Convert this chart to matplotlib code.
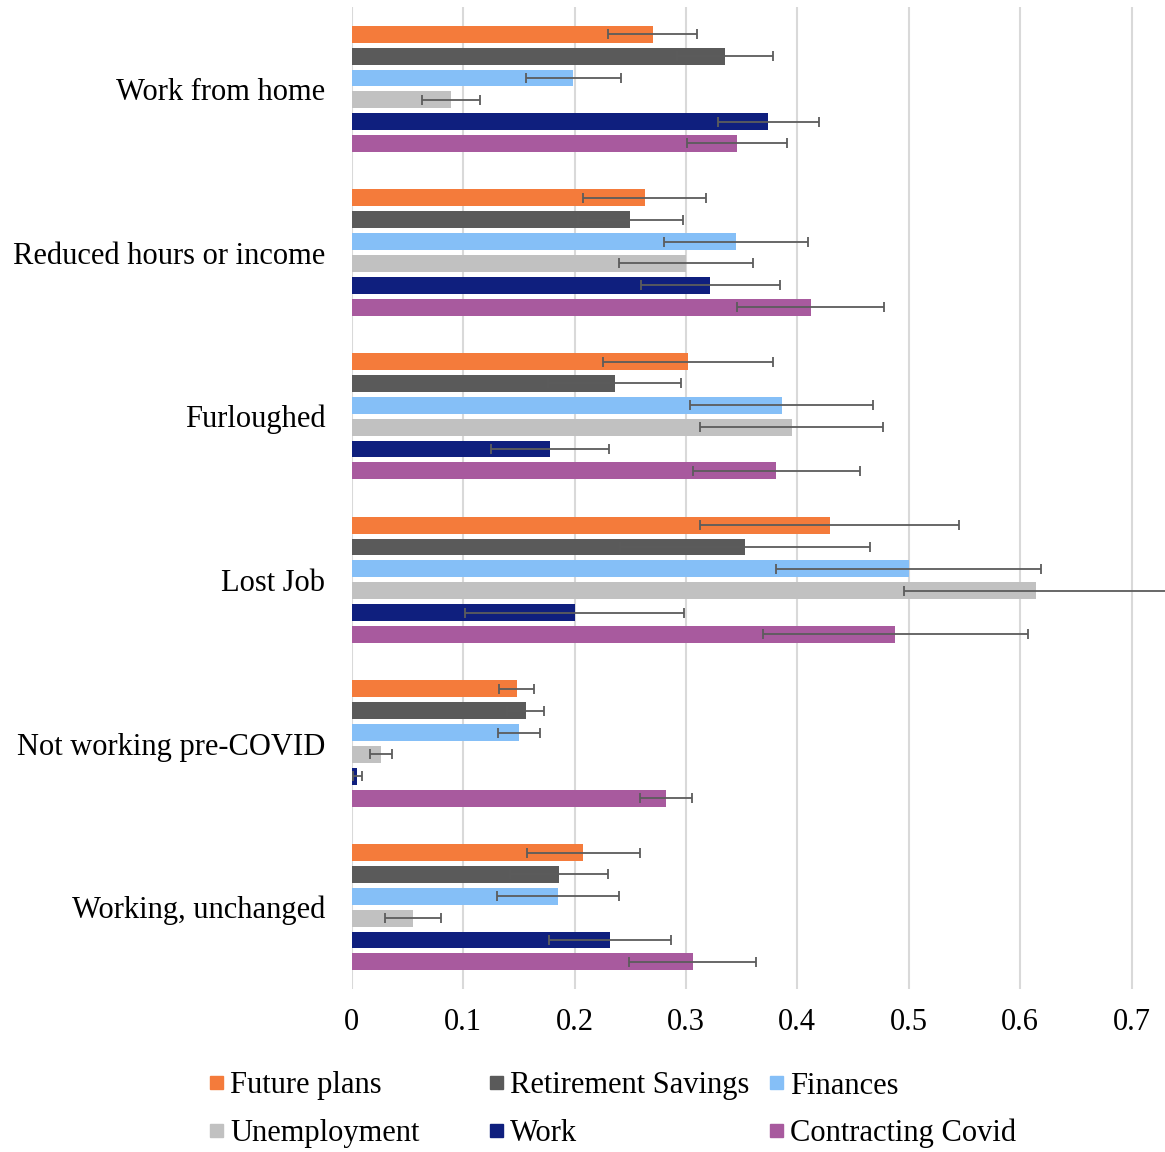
import numpy as np
import matplotlib.pyplot as plt
from matplotlib.patches import Rectangle

plt.rcParams['font.family'] = ['Liberation Serif', 'DejaVu Serif']

groups = ["Work from home", "Reduced hours or income", "Furloughed",
          "Lost Job", "Not working pre-COVID", "Working, unchanged"]
series = ["Future plans", "Retirement Savings", "Finances",
          "Unemployment", "Work", "Contracting Covid"]
colors = ["#F47B3B", "#5A5A5A", "#85BFF7", "#C1C1C1", "#0F1F7E", "#A85A9E"]

# share of respondents worried, one list per series (order follows groups)
future_plans = [0.270, 0.263, 0.302, 0.429, 0.148, 0.208]
retirement = [0.335, 0.250, 0.236, 0.353, 0.156, 0.186]
finances = [0.199, 0.345, 0.386, 0.500, 0.150, 0.185]
unemployment = [0.089, 0.300, 0.395, 0.614, 0.026, 0.055]
work = [0.374, 0.322, 0.178, 0.200, 0.005, 0.232]
contracting = [0.346, 0.412, 0.381, 0.488, 0.282, 0.306]

# error bar half-widths
future_plans_err = [0.040, 0.055, 0.076, 0.116, 0.016, 0.051]
retirement_err = [0.043, 0.047, 0.060, 0.112, 0.017, 0.044]
finances_err = [0.043, 0.065, 0.082, 0.119, 0.019, 0.055]
unemployment_err = [0.026, 0.060, 0.082, 0.118, 0.010, 0.025]
work_err = [0.045, 0.062, 0.053, 0.098, 0.004, 0.055]
contracting_err = [0.045, 0.066, 0.075, 0.119, 0.023, 0.057]

values = [future_plans, retirement, finances, unemployment, work, contracting]
errors = [future_plans_err, retirement_err, finances_err,
          unemployment_err, work_err, contracting_err]

fig = plt.figure(figsize=(11.65, 11.52), dpi=100)
ax = fig.add_axes([0.3019, 0.1415, 0.6981, 0.8524])

y = np.arange(len(groups))
pitch = 0.1335
height = 0.103
for j, (vals, errs) in enumerate(zip(values, errors)):
    pos = y + (j - 2.5) * pitch
    ax.barh(pos, vals, height=height, color=colors[j], zorder=2)
    ax.errorbar(vals, pos, xerr=errs, fmt='none', ecolor='#5C5C5C',
                elinewidth=1.3, capsize=3.6, capthick=1.3, zorder=3)

ax.set_xlim(0, 0.73)
ax.set_ylim(5.5, -0.5)
ax.set_xticks(np.arange(0, 0.71, 0.1))
ax.set_xticklabels(["0", "0.1", "0.2", "0.3", "0.4", "0.5", "0.6", "0.7"])
ax.set_yticks(y)
ax.set_yticklabels(groups)
ax.tick_params(axis='both', length=0, labelsize=22)
ax.tick_params(axis='x', pad=14)
ax.tick_params(axis='y', pad=19)
ax.grid(axis='x', color='#D9D9D9', linewidth=1.5, zorder=0)
ax.set_axisbelow(True)
for s in ax.spines.values():
    s.set_visible(False)

# legend, two rows of three
W, H = fig.get_size_inches() * fig.dpi
col_x = [210, 490, 770]
row_y = [1082.5, 1130]
for k, name in enumerate(series):
    r, c = divmod(k, 3)
    x0 = col_x[c] / W
    yc = 1 - row_y[r] / H
    fig.patches.append(Rectangle((x0, yc - 6.5 / H), 13 / W, 13 / H,
                                 transform=fig.transFigure, color=colors[k]))
    fig.text(x0 + 20 / W, yc, name, fontsize=22, va='center_baseline', ha='left')

fig.savefig('out.png', dpi=100)
